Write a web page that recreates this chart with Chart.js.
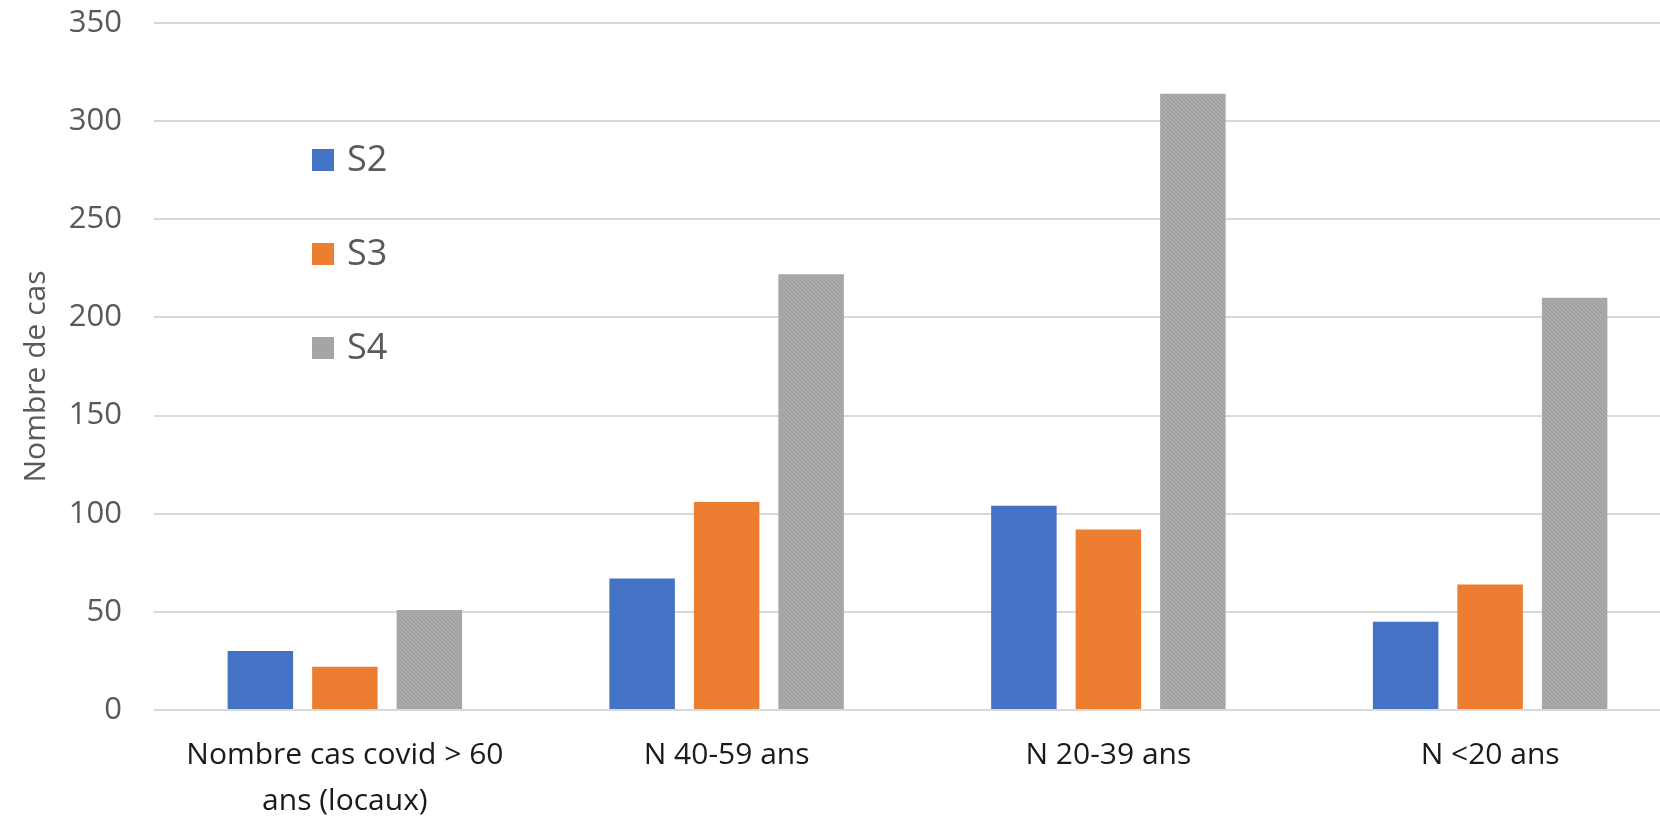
<!DOCTYPE html>
<html>
<head>
<meta charset="utf-8">
<script src="https://cdn.jsdelivr.net/npm/chart.js@4.4.0/dist/chart.umd.min.js"></script>
<style>
  html, body { margin: 0; padding: 0; background: #ffffff; overflow: hidden; }
  #wrap { position: absolute; left: 0; top: 0; width: 1690px; height: 816px; }
</style>
</head>
<body>
<div id="wrap"><canvas id="c" width="1690" height="816"></canvas></div>
<script>
// ---- data ----
const categories = [
  ['Nombre cas covid > 60', 'ans (locaux)'],
  'N 40-59 ans',
  'N 20-39 ans',
  'N <20 ans'
];
const seriesNames = ['S2', 'S3', 'S4'];
const s2Values = [30, 67, 104, 45];
const s3Values = [22, 106, 92, 64];
const s4Values = [51, 222, 314, 210];
const yTicks = [0, 50, 100, 150, 200, 250, 300, 350];
const yTitle = 'Nombre de cas';

// ---- styles ----
function grayPattern() {
  const c = document.createElement('canvas');
  c.width = 4; c.height = 4;
  const g = c.getContext('2d');
  g.fillStyle = '#a7a7a7';
  g.fillRect(0, 0, 4, 4);
  g.fillStyle = '#9d9d9d';
  g.fillRect(0, 0, 1, 1); g.fillRect(2, 1, 1, 1); g.fillRect(1, 2, 1, 1); g.fillRect(3, 3, 1, 1);
  g.fillStyle = '#afafaf';
  g.fillRect(2, 0, 1, 1); g.fillRect(0, 2, 1, 1); g.fillRect(3, 1, 1, 1); g.fillRect(1, 3, 1, 1);
  return g.createPattern(c, 'repeat');
}
const colors = ['#4472C4', '#ED7D31', grayPattern()];
const legendColors = ['#4472C4', '#ED7D31', '#a5a5a5'];

const insideLegend = {
  id: 'insideLegend',
  afterDraw(chart) {
    const ctx = chart.ctx;
    const a = chart.chartArea;
    const x0 = a.left + 158;
    const y0 = a.top + 126;
    ctx.save();
    chart.data.datasets.forEach((ds, i) => {
      const y = y0 + i * 94;
      ctx.fillStyle = legendColors[i];
      ctx.fillRect(x0, y, 22, 22);
      ctx.fillStyle = '#595959';
      ctx.font = '36px "Open Sans"';
      ctx.textBaseline = 'middle';
      ctx.textAlign = 'left';
      ctx.fillText(ds.label, x0 + 35, y + 12);
    });
    ctx.restore();
  }
};

const axisTitle = {
  id: 'axisTitle',
  afterDraw(chart) {
    const ctx = chart.ctx;
    const a = chart.chartArea;
    ctx.save();
    ctx.translate(a.left - 118, (a.top + a.bottom) / 2 + 10);
    ctx.rotate(-Math.PI / 2);
    ctx.fillStyle = '#595959';
    ctx.font = '30px "Open Sans"';
    ctx.textAlign = 'center';
    ctx.textBaseline = 'middle';
    ctx.fillText(yTitle, 0, 0);
    ctx.restore();
  }
};

const seriesValues = [s2Values, s3Values, s4Values];

new Chart(document.getElementById('c'), {
  type: 'bar',
  data: {
    labels: categories,
    datasets: seriesNames.map((name, i) => ({
      label: name,
      data: seriesValues[i],
      backgroundColor: colors[i],
      borderWidth: 0,
      categoryPercentage: 0.664,
      barPercentage: 0.775
    }))
  },
  options: {
    responsive: false,
    animation: false,
    layout: { padding: { top: 0, right: 9, left: 0, bottom: 0 } },
    plugins: {
      legend: { display: false },
      tooltip: { enabled: false }
    },
    scales: {
      x: {
        grid: { display: false, drawTicks: false },
        border: { display: false },
        ticks: {
          color: '#1a1a1a',
          font: { family: '"Open Sans"', size: 30, lineHeight: 1.52 },
          padding: 23,
          maxRotation: 0,
          autoSkip: false
        },
        afterFit(scale) { scale.height = 106; }
      },
      y: {
        min: 0,
        max: 350,
        afterBuildTicks(scale) { scale.ticks = yTicks.map(v => ({ value: v })); },
        grid: { color: '#d9d9d9', lineWidth: 2, drawTicks: false },
        border: { display: false },
        ticks: {
          color: '#595959',
          font: { family: '"Open Sans"', size: 31 },
          padding: 32
        },
        title: { display: false },
        afterFit(scale) {
          scale.width = 154;
          scale.paddingTop = 23;
          scale.paddingBottom = 0;
        }
      }
    }
  },
  plugins: [insideLegend, axisTitle]
});
</script>
</body>
</html>
